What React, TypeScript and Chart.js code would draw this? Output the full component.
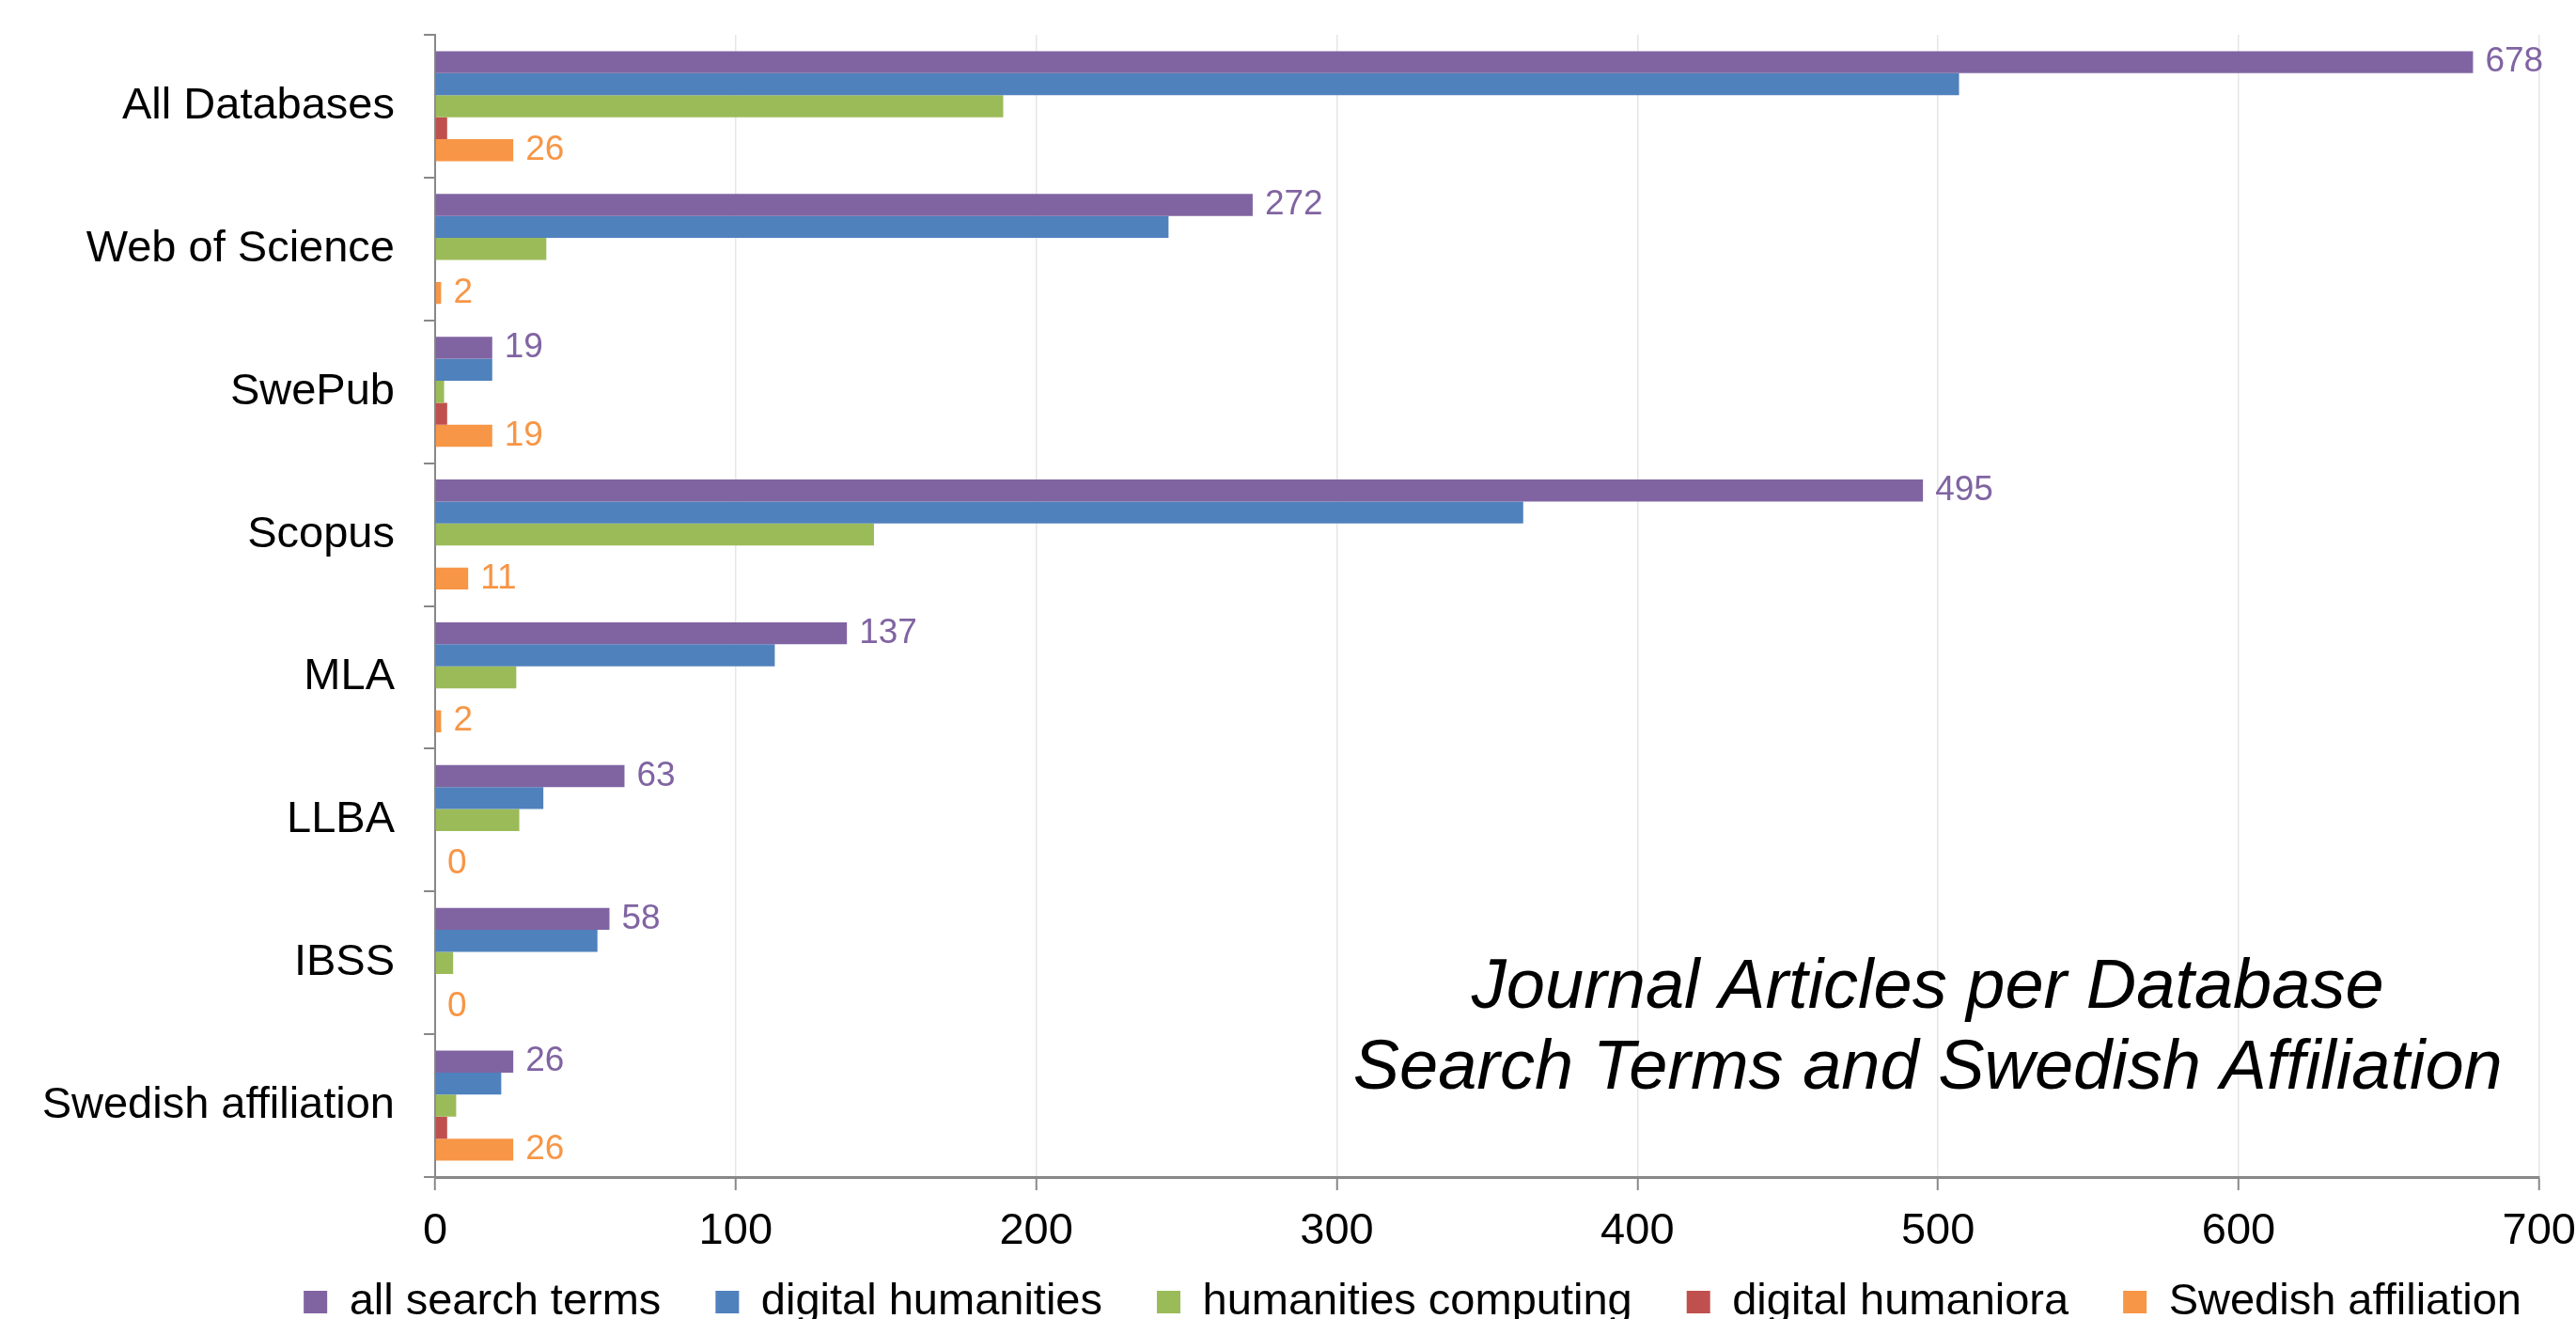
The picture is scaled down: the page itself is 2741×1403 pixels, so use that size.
import React, { useEffect, useRef } from "react";
import { Chart, registerables } from "chart.js";

Chart.register(...registerables);

const categories = [
  "All Databases",
  "Web of Science",
  "SwePub",
  "Scopus",
  "MLA",
  "LLBA",
  "IBSS",
  "Swedish affiliation",
];
const seriesNames = [
  "all search terms",
  "digital humanities",
  "humanities computing",
  "digital humaniora",
  "Swedish affiliation",
];
const allSearchTerms = [678, 272, 19, 495, 137, 63, 58, 26];
const digitalHumanities = [507, 244, 19, 362, 113, 36, 54, 22];
const humanitiesComputing = [189, 37, 3, 146, 27, 28, 6, 7];
const digitalHumaniora = [4, 0, 4, 0, 0, 0, 0, 4];
const swedishAffiliation = [26, 2, 19, 11, 2, 0, 0, 26];
const seriesColors = ["#8064A2", "#4F81BD", "#9BBB59", "#C0504D", "#F79646"];
const labelledSeries = [0, 4];
const xMin = 0;
const xMax = 700;
const xStep = 100;
const titleLines = ["Journal Articles per Database", "Search Terms and Swedish Affiliation"];

const W = 2741;
const H = 1469;
const FONT = "'Liberation Sans', Arial, sans-serif";

const valueLabelPlugin = {
  id: "valueLabels",
  afterDatasetsDraw(chart: any) {
    const ctx = chart.ctx;
    ctx.save();
    ctx.font = `37px ${FONT}`;
    ctx.textAlign = "left";
    ctx.textBaseline = "middle";
    labelledSeries.forEach((di) => {
      const meta = chart.getDatasetMeta(di);
      const ds = chart.data.datasets[di];
      ctx.fillStyle = seriesColors[di];
      meta.data.forEach((bar: any, i: number) => {
        ctx.fillText(String(ds.data[i]), bar.x + 13, bar.y);
      });
    });
    ctx.restore();
  },
};

const titlePlugin = {
  id: "insideTitle",
  afterDraw(chart: any) {
    const ctx = chart.ctx;
    const area = chart.chartArea;
    ctx.save();
    ctx.font = `italic 74px ${FONT}`;
    ctx.fillStyle = "#000";
    ctx.textAlign = "center";
    ctx.textBaseline = "alphabetic";
    const cx = area.left + (area.right - area.left) * 0.7094;
    const y1 = area.top + (area.bottom - area.top) * 0.852;
    ctx.fillText(titleLines[0], cx, y1);
    ctx.fillText(titleLines[1], cx, y1 + 86);
    ctx.restore();
  },
};

// move the legend up so it sits just under the x tick labels, as in the original
const legendShiftPlugin = {
  id: "legendShift",
  afterLayout(chart: any) {
    const lg = chart.legend;
    if (lg) {
      lg.top -= 50.5;
      lg.bottom -= 50.5;
    }
  },
};

export default function App() {
  const ref = useRef<HTMLCanvasElement | null>(null);
  useEffect(() => {
    if (!ref.current) return;
    Chart.defaults.font.family = FONT;
    const values = [allSearchTerms, digitalHumanities, humanitiesComputing, digitalHumaniora, swedishAffiliation];
    const chart = new Chart(ref.current, {
      type: "bar",
      data: {
        labels: categories,
        datasets: values.map((d, i) => ({
          label: seriesNames[i],
          data: d,
          backgroundColor: seriesColors[i],
          borderWidth: 0,
          categoryPercentage: 0.77,
          barPercentage: 1.0,
        })),
      },
      options: {
        indexAxis: "y",
        responsive: false,
        animation: false,
        devicePixelRatio: 1,
        layout: { padding: { top: 37, left: 0, right: 0, bottom: 0 } },
        plugins: {
          legend: {
            display: true,
            position: "bottom",
            align: "end",
            labels: {
              font: { size: 47, family: FONT },
              color: "#000",
              boxWidth: 25,
              boxHeight: 24,
              padding: 58,
            },
          },
          tooltip: { enabled: false },
          title: { display: false },
        },
        scales: {
          x: {
            type: "linear",
            min: xMin,
            max: xMax,
            ticks: {
              stepSize: xStep,
              font: { size: 47, family: FONT, lineHeight: 1.88 },
              color: "#000",
              padding: 0,
              maxRotation: 0,
            },
            grid: {
              color: "#e6e6e6",
              lineWidth: 1.5,
              tickColor: "#888888",
              tickLength: 14,
              tickWidth: 2,
            },
            border: { color: "#888888", width: 3 },
            afterFit: (scale: any) => {
              scale.height = 102;
            },
          },
          y: {
            type: "category",
            offset: true,
            ticks: {
              font: { size: 47, family: FONT, lineHeight: 0.2 },
              color: "#000",
              padding: 31,
            },
            grid: {
              drawOnChartArea: false,
              offset: true,
              tickColor: "#888888",
              tickLength: 12,
              lineWidth: 2,
            },
            border: { color: "#888888", width: 2 },
            afterFit: (scale: any) => {
              scale.width = 463;
            },
          },
        },
      },
      plugins: [valueLabelPlugin, titlePlugin, legendShiftPlugin],
    } as any);
    return () => chart.destroy();
  }, []);

  return (
    <div
      style={{
        position: "fixed",
        left: 0,
        top: 0,
        width: W,
        height: 1403,
        overflow: "hidden",
        background: "#fff",
      }}
    >
      <canvas ref={ref} width={W} height={H} style={{ width: W, height: H, display: "block" }} />
    </div>
  );
}
